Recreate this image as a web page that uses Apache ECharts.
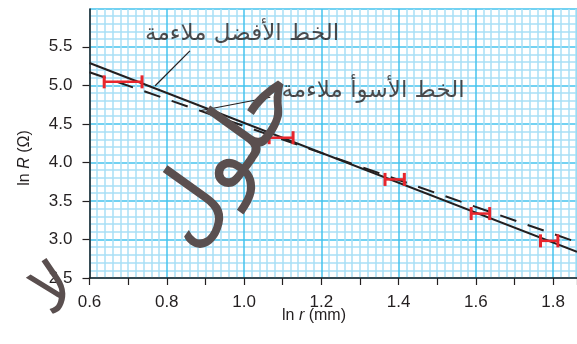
<!DOCTYPE html>
<html>
<head>
<meta charset="utf-8">
<script src="https://cdn.jsdelivr.net/npm/echarts@6/dist/echarts.min.js"></script>
<style>
html, body { margin: 0; padding: 0; background: #fff; }
#chart { width: 577px; height: 344px; }
</style>
</head>
<body>
<div id="chart"></div>
<script>
// axis ranges
const xRange = [0.6, 1.862]
const yRange = [2.5, 5.99]

// fitted lines (end points)
const bestFit = [[0.6, 5.29], [1.862, 2.84]]
const worstFit = [[0.6, 5.17], [1.862, 2.965]]

// measured points with horizontal error bars
const pointX = [0.687, 1.096, 1.390, 1.612, 1.790]
const pointY = [5.045, 4.32, 3.779, 3.336, 2.982]
const pointErr = [0.049, 0.031, 0.025, 0.024, 0.0225]

// annotations
const labelNames = ['الخط الأفضل ملاءمة', 'الخط الأسوأ ملاءمة']
const labelPos = [[0.995, 5.67], [1.334, 4.92]]
const leaderBest = [[0.860, 5.446], [0.770, 4.994]]
const leaderWorst = [[0.886, 4.67], [1.068, 4.845]]

const ink = '#231f20'
const red = '#e8262d'
const major = '#45c3ee'
const minor = '#a9e0f6'

const points = pointX.map((x, i) => [x, pointY[i], pointErr[i]])
const labels = labelPos.map((p, i) => ({ name: labelNames[i], value: p }))

const option = {
    animation: false,
    grid: { left: 89.5, right: 0, top: 9, bottom: 66 },
    xAxis: [{
        type: 'value',
        min: xRange[0],
        max: xRange[1],
        interval: 0.2,
        axisLine: { show: true, onZero: false, lineStyle: { color: ink, width: 1.5 } },
        axisTick: { show: false },
        axisLabel: {
            showMaxLabel: false,
            margin: 16,
            color: ink,
            fontSize: 17,
            fontFamily: 'Liberation Sans',
            formatter: (v) => v.toFixed(1)
        },
        splitLine: { show: true, lineStyle: { color: major, width: 1.5 } },
        minorTick: { show: false, splitNumber: 10 },
        minorSplitLine: { show: true, lineStyle: { color: minor, width: 1.5 } }
    }, {
        // ticks every 0.1
        type: 'value',
        position: 'bottom',
        min: xRange[0],
        max: xRange[1],
        interval: 0.1,
        axisLine: { show: false },
        axisTick: { show: true, inside: false, length: 7, lineStyle: { color: ink, width: 1.2 } },
        axisLabel: { show: false },
        splitLine: { show: false }
    }],
    yAxis: {
        type: 'value',
        min: yRange[0],
        max: yRange[1],
        interval: 0.5,
        axisLine: { show: true, onZero: false, lineStyle: { color: ink, width: 1.5 } },
        axisTick: { show: true, length: 7, lineStyle: { color: ink, width: 1.2 } },
        axisLabel: {
            showMaxLabel: false,
            margin: 17,
            color: ink,
            fontSize: 17,
            fontFamily: 'Liberation Sans',
            formatter: (v) => v.toFixed(1)
        },
        splitLine: { show: true, lineStyle: { color: major, width: 1.5 } },
        minorTick: { show: false, splitNumber: 5 },
        minorSplitLine: { show: true, lineStyle: { color: minor, width: 1.5 } }
    },
    series: [{
        type: 'line',
        data: bestFit,
        symbol: 'none',
        lineStyle: { color: ink, width: 2 },
        z: 3
    }, {
        type: 'line',
        data: worstFit,
        symbol: 'none',
        lineStyle: { color: ink, width: 2, type: [17, 12] },
        z: 3
    }, {
        type: 'line',
        data: leaderBest,
        symbol: 'none',
        lineStyle: { color: ink, width: 1.2 },
        z: 3
    }, {
        type: 'line',
        data: leaderWorst,
        symbol: 'none',
        lineStyle: { color: ink, width: 1.2 },
        z: 3
    }, {
        type: 'custom',
        data: points,
        encode: { x: 0, y: 1 },
        z: 4,
        renderItem: (params, api) => {
            const x = api.value(0)
            const y = api.value(1)
            const e = api.value(2)
            const a = api.coord([x - e, y])
            const b = api.coord([x + e, y])
            const h = 6.5
            return {
                type: 'group',
                children: [
                    { type: 'line', shape: { x1: a[0], y1: a[1], x2: b[0], y2: b[1] }, style: { stroke: red, lineWidth: 2.5 } },
                    { type: 'line', shape: { x1: a[0], y1: a[1] - h, x2: a[0], y2: a[1] + h }, style: { stroke: red, lineWidth: 3 } },
                    { type: 'line', shape: { x1: b[0], y1: b[1] - h, x2: b[0], y2: b[1] + h }, style: { stroke: red, lineWidth: 3 } }
                ]
            }
        }
    }, {
        type: 'scatter',
        data: labels,
        symbolSize: 1,
        itemStyle: { color: 'transparent' },
        z: 5,
        label: {
            show: true,
            position: 'inside',
            formatter: (p) => p.name,
            color: ink,
            fontSize: 23,
            fontFamily: 'DejaVu Sans'
        }
    }],
    graphic: [{
        type: 'text',
        x: 25,
        y: 158,
        rotation: Math.PI / 2,
        style: {
            text: '{a|ln }{i|R}{a| (Ω)}',
            align: 'center',
            verticalAlign: 'middle',
            rich: {
                a: { fontSize: 16, fontFamily: 'Liberation Sans', fill: ink },
                i: { fontSize: 16, fontFamily: 'Liberation Sans', fontStyle: 'italic', fill: ink }
            }
        }
    }, {
        type: 'text',
        x: 314,
        y: 316,
        style: {
            text: '{a|ln }{i|r}{a| (mm)}',
            align: 'center',
            verticalAlign: 'middle',
            rich: {
                a: { fontSize: 16, fontFamily: 'Liberation Sans', fill: ink },
                i: { fontSize: 16, fontFamily: 'Liberation Sans', fontStyle: 'italic', fill: ink }
            }
        }
    }, {
        // watermark
        type: 'text',
        x: 228,
        y: 158,
        rotation: 0.95,
        z: 100,
        style: {
            text: 'حلول',
            align: 'center',
            verticalAlign: 'middle',
            fontSize: 90,
            fontFamily: 'DejaVu Sans',
            fill: '#5a4f4f'
        }
    }, {
        type: 'text',
        x: 55,
        y: 292,
        rotation: 0.6,
        z: 100,
        style: {
            text: 'لا',
            align: 'center',
            verticalAlign: 'middle',
            fontSize: 66,
            fontFamily: 'DejaVu Sans',
            fill: '#5a4f4f'
        }
    }]
}

const chart = echarts.init(document.getElementById('chart'))
chart.setOption(option)
</script>
</body>
</html>
